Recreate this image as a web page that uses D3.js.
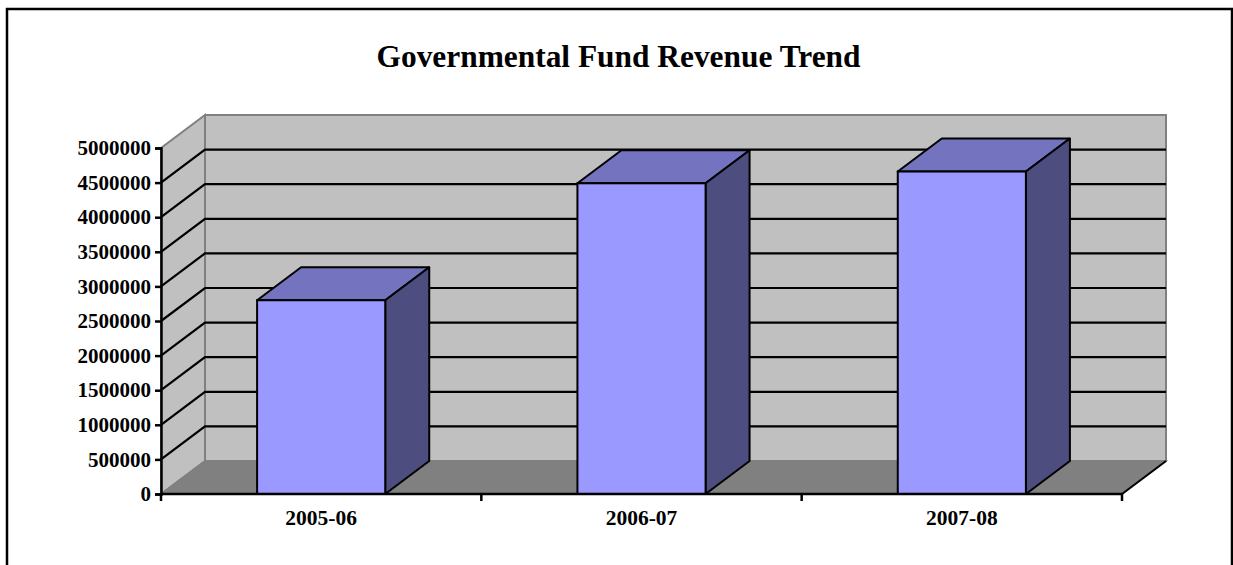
<!DOCTYPE html>
<html>
<head>
<meta charset="utf-8">
<script src="https://cdn.jsdelivr.net/npm/d3@7"></script>
<style>
  html, body { margin: 0; padding: 0; background: #ffffff; }
  svg { display: block; }
  text { font-family: "Liberation Serif", "Times New Roman", serif; font-weight: bold; fill: #000; }
</style>
</head>
<body>
<svg id="chart" width="1233" height="565"></svg>
<script>
// Revenue by fiscal year
const categories = ["2005-06", "2006-07", "2007-08"];
const revenue = [2800000, 4490000, 4660000];
const yTicks = [0, 500000, 1000000, 1500000, 2000000, 2500000, 3000000, 3500000, 4000000, 4500000, 5000000];
const title = "Governmental Fund Revenue Trend";

const svg = d3.select("#chart");

// Front plane of the 3D box and the depth offset to the back wall
const front = { left: 161, right: 1122, top: 148, bottom: 494 };
const depth = { dx: 44, dy: -33 };

const y = d3.scaleLinear().domain([0, 5000000]).range([front.bottom, front.top]);
const x = d3.scaleBand().domain(categories).range([front.left, front.right])
  .paddingInner(0.6).paddingOuter(0.3);

// Outer frame
svg.append("rect")
  .attr("x", 7).attr("y", 9).attr("width", 1225).attr("height", 600)
  .attr("fill", "none").attr("stroke", "#000").attr("stroke-width", 2.5);

// Title
svg.append("text")
  .attr("x", 618.5).attr("y", 66.5)
  .attr("text-anchor", "middle")
  .style("font-size", "31.4px")
  .text(title);

const pts = a => a.map(p => p.join(",")).join(" ");
const yMax = y.domain()[1];

// Back wall
svg.append("polygon")
  .attr("points", pts([
    [front.left + depth.dx, y(0) + depth.dy],
    [front.right + depth.dx, y(0) + depth.dy],
    [front.right + depth.dx, y(yMax) + depth.dy],
    [front.left + depth.dx, y(yMax) + depth.dy]
  ]))
  .attr("fill", "#c0c0c0").attr("stroke", "#808080").attr("stroke-width", 2);

// Left side wall
svg.append("polygon")
  .attr("points", pts([
    [front.left, y(0)],
    [front.left + depth.dx, y(0) + depth.dy],
    [front.left + depth.dx, y(yMax) + depth.dy],
    [front.left, y(yMax)]
  ]))
  .attr("fill", "#c0c0c0").attr("stroke", "#808080").attr("stroke-width", 2);

// Floor
svg.append("polygon")
  .attr("points", pts([
    [front.left, y(0)],
    [front.right, y(0)],
    [front.right + depth.dx, y(0) + depth.dy],
    [front.left + depth.dx, y(0) + depth.dy]
  ]))
  .attr("fill", "#808080").attr("stroke", "#808080").attr("stroke-width", 1.5);

// Floor right edge
svg.append("line")
  .attr("x1", front.right).attr("y1", y(0))
  .attr("x2", front.right + depth.dx).attr("y2", y(0) + depth.dy)
  .attr("stroke", "#000").attr("stroke-width", 2);

// Gridlines across side wall and back wall
const gridVals = yTicks.filter(v => v > 0 && v < yMax);
const grid = svg.append("g");
gridVals.forEach(v => {
  grid.append("polyline")
    .attr("points", pts([
      [front.left, y(v)],
      [front.left + depth.dx, y(v) + depth.dy],
      [front.right + depth.dx, y(v) + depth.dy]
    ]))
    .attr("fill", "none").attr("stroke", "#000").attr("stroke-width", 2.2);
});

// Bars as 3D boxes
const bars = svg.append("g").selectAll("g").data(categories.map((c, i) => ({ c, v: revenue[i] })))
  .join("g");

bars.append("polygon") // top face
  .attr("points", d => {
    const x0 = x(d.c), x1 = x(d.c) + x.bandwidth(), yt = y(d.v);
    return pts([[x0, yt], [x1, yt], [x1 + depth.dx, yt + depth.dy], [x0 + depth.dx, yt + depth.dy]]);
  })
  .attr("fill", "#7373bf").attr("stroke", "#000").attr("stroke-width", 2).attr("stroke-linejoin", "round");

bars.append("polygon") // side face
  .attr("points", d => {
    const x1 = x(d.c) + x.bandwidth(), yt = y(d.v), yb = y(0);
    return pts([[x1, yt], [x1 + depth.dx, yt + depth.dy], [x1 + depth.dx, yb + depth.dy], [x1, yb]]);
  })
  .attr("fill", "#4d4d80").attr("stroke", "#000").attr("stroke-width", 2).attr("stroke-linejoin", "round");

bars.append("rect") // front face
  .attr("x", d => x(d.c))
  .attr("y", d => y(d.v))
  .attr("width", x.bandwidth())
  .attr("height", d => y(0) - y(d.v))
  .attr("fill", "#9999ff").attr("stroke", "#000").attr("stroke-width", 2);

// Value axis
const yAxis = svg.append("g")
  .attr("transform", `translate(${front.left},0)`)
  .call(d3.axisLeft(y).tickValues(yTicks).tickFormat(d3.format("d")).tickSize(6).tickPadding(4));
yAxis.select(".domain").attr("stroke", "#000").attr("stroke-width", 2.5);
yAxis.selectAll(".tick line").attr("stroke", "#000").attr("stroke-width", 2.5);
yAxis.selectAll("text")
  .style("font-family", '"Liberation Serif", "Times New Roman", serif')
  .style("font-weight", "bold").style("font-size", "21px").attr("fill", "#000");

// Category axis line
svg.append("line")
  .attr("x1", front.left).attr("y1", y(0))
  .attr("x2", front.right).attr("y2", y(0))
  .attr("stroke", "#000").attr("stroke-width", 2.5);

// Category boundary tick marks
const bounds = d3.range(categories.length + 1).map(i => front.left + i * (front.right - front.left) / categories.length);
svg.append("g").selectAll("line").data(bounds).join("line")
  .attr("x1", d => d).attr("x2", d => d)
  .attr("y1", y(0)).attr("y2", y(0) + 7)
  .attr("stroke", "#000").attr("stroke-width", 2.5);

// Category labels
const xAxis = svg.append("g")
  .attr("transform", `translate(0,${y(0)})`)
  .call(d3.axisBottom(x).tickSize(0).tickPadding(16));
xAxis.select(".domain").remove();
xAxis.selectAll("text")
  .style("font-family", '"Liberation Serif", "Times New Roman", serif')
  .style("font-weight", "bold").style("font-size", "21.5px").attr("fill", "#000");
</script>
</body>
</html>
